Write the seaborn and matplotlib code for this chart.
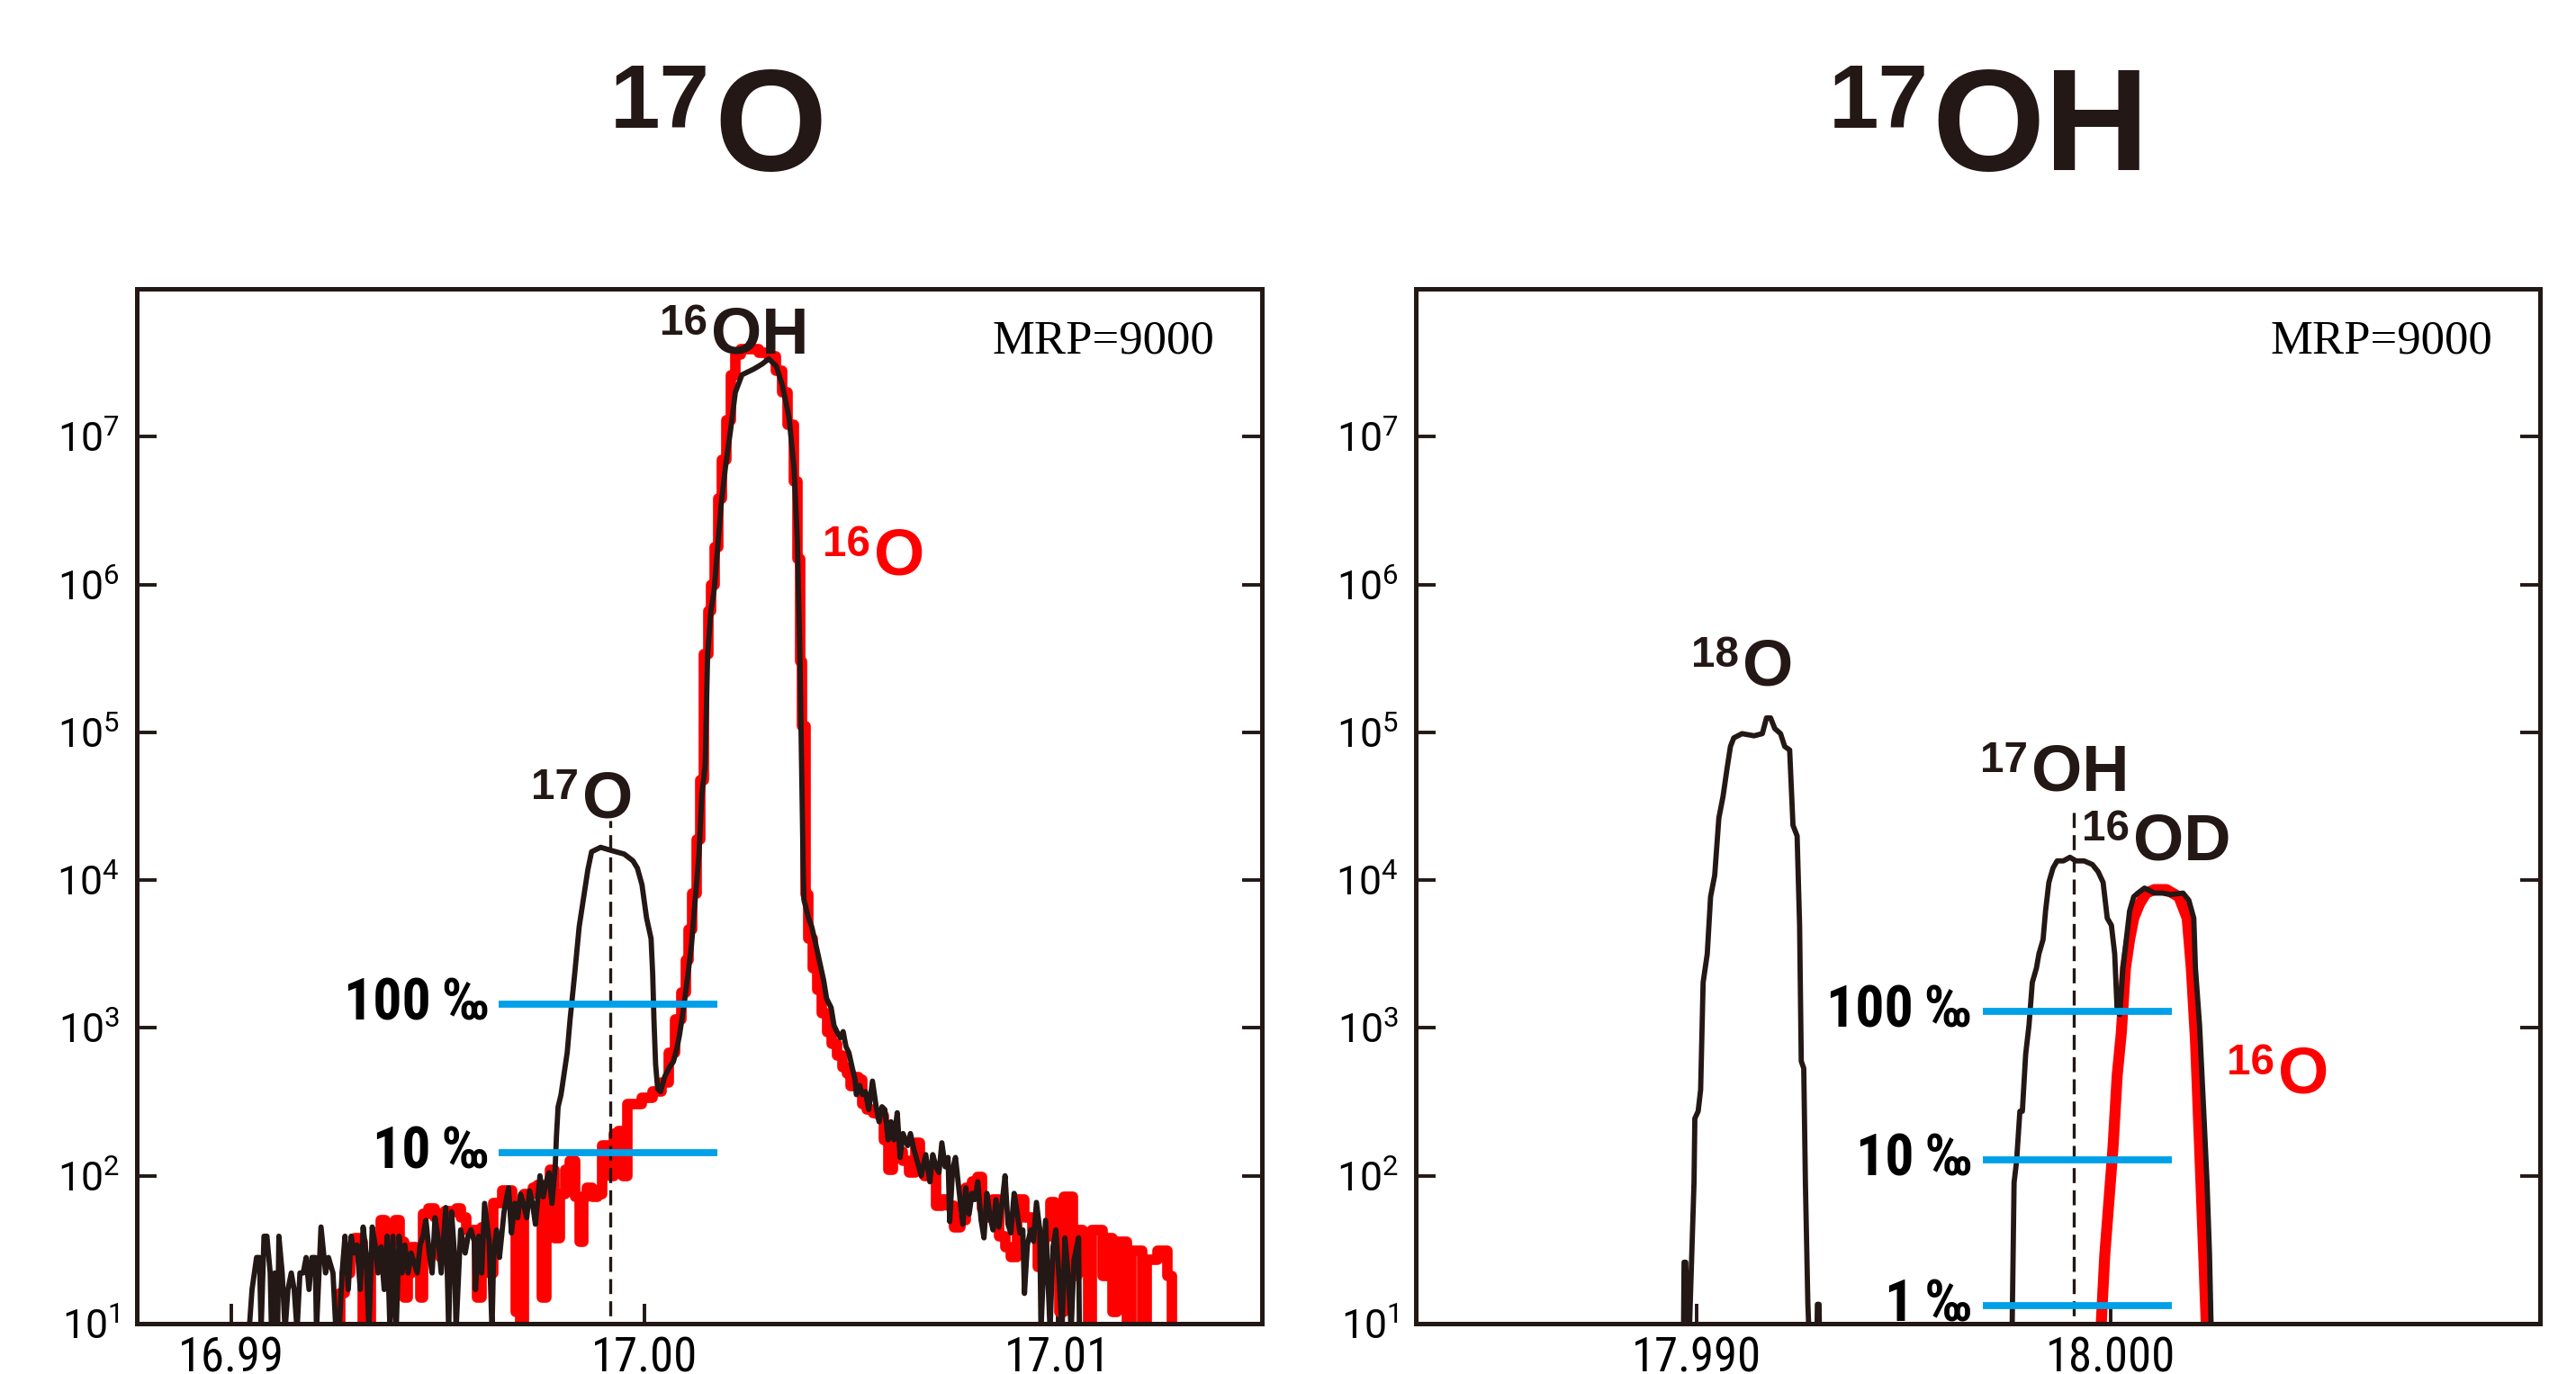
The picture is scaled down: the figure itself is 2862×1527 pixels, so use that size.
import matplotlib
matplotlib.use("Agg")
import matplotlib.pyplot as plt
from matplotlib import font_manager, ticker
import seaborn as sns

# ---------------- data ----------------
# left panel (mass 17): black = sample with 16OH, red = 16O only
o17_black_mz = [
    16.99043, 16.99050, 16.99061, 16.99068, 16.99072, 16.99079, 16.99086, 16.99094, 16.99097, 16.99105,
    16.99112, 16.99115, 16.99123, 16.99130, 16.99137, 16.99145, 16.99152, 16.99159, 16.99166, 16.99174,
    16.99181, 16.99188, 16.99195, 16.99203, 16.99206, 16.99217, 16.99228, 16.99235, 16.99246, 16.99253,
    16.99261, 16.99268, 16.99275, 16.99283, 16.99290, 16.99297, 16.99304, 16.99312, 16.99319, 16.99326,
    16.99333, 16.99341, 16.99348, 16.99355, 16.99362, 16.99370, 16.99377, 16.99384, 16.99391, 16.99399,
    16.99406, 16.99413, 16.99420, 16.99428, 16.99435, 16.99450, 16.99457, 16.99464, 16.99471, 16.99479,
    16.99486, 16.99493, 16.99500, 16.99508, 16.99519, 16.99526, 16.99533, 16.99540, 16.99544, 16.99555,
    16.99566, 16.99573, 16.99580, 16.99588, 16.99591, 16.99599, 16.99606, 16.99613, 16.99624, 16.99631,
    16.99635, 16.99642, 16.99649, 16.99653, 16.99660, 16.99671, 16.99678, 16.99686, 16.99693, 16.99700,
    16.99707, 16.99715, 16.99722, 16.99729, 16.99736, 16.99747, 16.99755, 16.99762, 16.99769, 16.99776,
    16.99784, 16.99787, 16.99791, 16.99798, 16.99813, 16.99820, 16.99831, 16.99842, 16.99853, 16.99863,
    16.99872, 16.99894, 16.99918, 16.99951, 16.99972, 16.99983, 16.99994, 17.00005, 17.00016, 17.00020,
    17.00023, 17.00027, 17.00032, 17.00039, 17.00049, 17.00060, 17.00070, 17.00078, 17.00085, 17.00096,
    17.00107, 17.00114, 17.00121, 17.00132, 17.00139, 17.00147, 17.00153, 17.00161, 17.00169, 17.00176,
    17.00186, 17.00196, 17.00208, 17.00220, 17.00236, 17.00265, 17.00285, 17.00301, 17.00319, 17.00334,
    17.00350, 17.00362, 17.00370, 17.00376, 17.00380, 17.00384, 17.00386, 17.00397, 17.00405, 17.00415,
    17.00426, 17.00434, 17.00441, 17.00452, 17.00459, 17.00466, 17.00474, 17.00481, 17.00488, 17.00495,
    17.00503, 17.00510, 17.00513, 17.00521, 17.00528, 17.00535, 17.00543, 17.00552, 17.00561, 17.00568,
    17.00575, 17.00582, 17.00590, 17.00597, 17.00604, 17.00612, 17.00619, 17.00626, 17.00637, 17.00644,
    17.00652, 17.00662, 17.00670, 17.00681, 17.00691, 17.00698, 17.00706, 17.00713, 17.00720, 17.00728,
    17.00735, 17.00739, 17.00746, 17.00753, 17.00764, 17.00771, 17.00778, 17.00786, 17.00793, 17.00800,
    17.00807, 17.00815, 17.00822, 17.00829, 17.00837, 17.00844, 17.00851, 17.00858, 17.00866, 17.00873,
    17.00880, 17.00887, 17.00895, 17.00902, 17.00909, 17.00916, 17.00920, 17.00927, 17.00935, 17.00942,
    17.00949, 17.00957, 17.00960, 17.00971, 17.00982, 17.00989, 17.00996, 17.01004, 17.01011, 17.01018,
    17.01026, 17.01033, 17.01040, 17.01051, 17.01053,
]
o17_black_cts = [
    9, 17, 28, 28, 9, 39, 39, 22, 9, 22,
    9, 39, 22, 9, 17, 22, 17, 9, 22, 22,
    28, 17, 28, 28, 9, 45, 22, 28, 22, 9,
    9, 22, 39, 17, 39, 30, 34, 17, 45, 30,
    9, 45, 34, 22, 33, 17, 39, 9, 39, 9,
    39, 22, 34, 22, 30, 22, 34, 39, 50, 30,
    22, 52, 39, 22, 61, 9, 57, 30, 9, 43,
    30, 39, 43, 36, 17, 39, 22, 65, 36, 9,
    30, 43, 28, 36, 57, 83, 41, 65, 52, 75,
    65, 52, 79, 65, 47, 100, 72, 91, 105, 65,
    115, 186, 293, 353, 681, 1143, 2301, 4840, 7710, 11750,
    15550, 16670, 15920, 15000, 13520, 12030, 9310, 5570, 4020, 2301,
    1143, 567, 388, 371, 468, 538, 591, 713, 899, 1436,
    2513, 3656, 6400, 14860, 37940, 60300, 3.4e5, 6.65e5, 9.3e5, 1.62e6,
    3.54e6, 6.18e6, 1.08e7, 1.99e7, 2.62e7, 2.87e7, 3.1e7, 3.36e7, 3.0e7, 2.22e7,
    1.35e7, 6.18e6, 2.03e6, 3.8e5, 7.2e4, 1.35e4, 7370, 5570, 4840, 3660,
    2640, 2090, 1580, 1370, 1036, 944, 859, 944, 746, 680,
    539, 447, 354, 407, 354, 371, 280, 437, 293, 232,
    293, 280, 175, 232, 175, 267, 133, 193, 160, 193,
    152, 121, 100, 139, 91, 139, 115, 105, 167, 115,
    133, 49, 110, 133, 69, 47, 83, 55, 76, 69,
    91, 50, 38, 76, 52, 43, 69, 45, 66, 100,
    47, 41, 76, 57, 41, 43, 16, 34, 43, 36,
    66, 43, 9, 50, 9, 33, 43, 20, 9, 38,
    21, 9, 27, 38, 9,
]

o17_red_mz = [
    16.99257, 16.99268, 16.99282, 16.99293, 16.99304, 16.99315, 16.99322, 16.99333, 16.99344, 16.99355,
    16.99366, 16.99381, 16.99391, 16.99402, 16.99413, 16.99424, 16.99431, 16.99442, 16.99453, 16.99460,
    16.99468, 16.99486, 16.99500, 16.99511, 16.99522, 16.99537, 16.99551, 16.99562, 16.99573, 16.99587,
    16.99602, 16.99609, 16.99620, 16.99631, 16.99638, 16.99649, 16.99664, 16.99675, 16.99686, 16.99693,
    16.99704, 16.99711, 16.99725, 16.99736, 16.99747, 16.99758, 16.99765, 16.99776, 16.99787, 16.99802,
    16.99813, 16.99827, 16.99838, 16.99849, 16.99856, 16.99867, 16.99882, 16.99893, 16.99903, 16.99914,
    16.99922, 16.99932, 16.99943, 16.99954, 16.99965, 16.99980, 17.00009, 17.00031, 17.00052, 17.00067,
    17.00081, 17.00096, 17.00103, 17.00112, 17.00121, 17.00132, 17.00139, 17.00150, 17.00158, 17.00166,
    17.00173, 17.00183, 17.00193, 17.00205, 17.00215, 17.00225, 17.00240, 17.00265, 17.00290, 17.00310,
    17.00325, 17.00340, 17.00355, 17.00367, 17.00375, 17.00380, 17.00384, 17.00388, 17.00390, 17.00401,
    17.00412, 17.00423, 17.00437, 17.00448, 17.00459, 17.00474, 17.00484, 17.00495, 17.00503, 17.00513,
    17.00524, 17.00532, 17.00546, 17.00561, 17.00575, 17.00586, 17.00597, 17.00608, 17.00619, 17.00633,
    17.00648, 17.00662, 17.00673, 17.00684, 17.00699, 17.00713, 17.00728, 17.00742, 17.00757, 17.00771,
    17.00786, 17.00800, 17.00811, 17.00822, 17.00837, 17.00851, 17.00866, 17.00880, 17.00895, 17.00909,
    17.00931, 17.00946, 17.00960, 17.00975, 17.00989, 17.01000, 17.01011, 17.01018, 17.01029, 17.01044,
    17.01054, 17.01069, 17.01080, 17.01087, 17.01102, 17.01116, 17.01127, 17.01138, 17.01149, 17.01163,
    17.01174, 17.01185, 17.01200, 17.01211, 17.01222, 17.01236, 17.01247, 17.01261, 17.01272, 17.01280,
]
o17_red_cts = [
    9, 16, 22, 33, 38, 36, 9, 9, 28, 34,
    50, 33, 45, 50, 36, 15, 22, 33, 24, 15,
    55, 60, 52, 28, 58, 57, 60, 52, 43, 43,
    15, 45, 43, 22, 65, 65, 79, 79, 63, 12,
    9, 75, 75, 83, 87, 15, 57, 110, 38, 75,
    110, 126, 72, 36, 72, 83, 72, 75, 160, 160,
    100, 193, 202, 100, 307, 307, 337, 371, 427, 681,
    1138, 1733, 2893, 4620, 8090, 18750, 47700, 3.4e5, 6.65e5, 1.0e6,
    1.8e6, 3.8e6, 7.0e6, 1.3e7, 2.6e7, 3.6e7, 3.9e7, 3.9e7, 3.7e7, 3.5e7,
    2.8e7, 2.0e7, 1.2e7, 5.0e6, 1.5e6, 3.0e5, 1.1e5, 1.1e5, 8000, 4020,
    2520, 1820, 1250, 944, 783, 649, 539, 491, 407, 468,
    447, 307, 280, 267, 255, 175, 110, 160, 146, 126,
    105, 167, 121, 100, 110, 63, 69, 63, 45, 50,
    83, 91, 98, 60, 52, 69, 39, 33, 28, 69,
    52, 43, 24, 39, 66, 39, 12, 72, 72, 21,
    43, 22.5, 9, 43, 43, 21, 38, 12, 36, 36,
    9, 31, 31, 9, 27, 27, 31, 31, 21, 9,
]

# right panel (mass 18)
o18_mz = [
    17.98968, 17.98970, 17.98974, 17.98977, 17.98980, 17.98994, 17.98996, 17.99004, 17.99010, 17.99016,
    17.99026, 17.99034, 17.99044, 17.99054, 17.99064, 17.99074, 17.99082, 17.99090, 17.99110, 17.99139,
    17.99159, 17.99169, 17.99179, 17.99189, 17.99203, 17.99213, 17.99225, 17.99233, 17.99243, 17.99249,
    17.99253, 17.99259, 17.99263, 17.99269, 17.99275, 17.99290, 17.99292, 17.99296, 17.99298,
]
o18_cts = [
    5, 26, 26, 12, 5, 90, 244, 273, 382, 2030,
    3170, 7720, 10800, 26300, 36700, 57400, 80200, 91600, 97900, 94700,
    97900, 1.25e5, 1.25e5, 1.06e5, 97900, 80200, 75900, 23500, 19900, 4950,
    596, 533, 90, 13.5, 5, 5, 13.5, 13.5, 5,
]

oh_od_mz = [
    17.99761, 17.99767, 17.99773, 17.99781, 17.99787, 17.99795, 17.99803, 17.99811, 17.99821, 17.99827,
    17.99837, 17.99843, 17.99851, 17.99861, 17.99871, 17.99886, 17.99902, 17.99916, 17.99936, 17.99956,
    17.99970, 17.99982, 17.99992, 18.00002, 18.00010, 18.00016, 18.00022, 18.00030, 18.00038, 18.00046,
    18.00056, 18.00066, 18.00082, 18.00106, 18.00125, 18.00145, 18.00175, 18.00189, 18.00201, 18.00205,
    18.00215, 18.00225, 18.00233, 18.00239, 18.00245,
]
oh_od_cts = [
    5, 90, 125, 273, 273, 665, 1040, 2030, 2540, 3170,
    3960, 6180, 9650, 12060, 13490, 13490, 14270, 13490, 13490, 12750,
    11400, 9650, 5530, 4950, 3170, 1300, 1230, 2540, 3960, 6180,
    7720, 8170, 8830, 8170, 8170, 7980, 8170, 7310, 5530, 2540,
    1040, 273, 90, 29, 5,
]

o16_right_mz = [
    17.99972, 17.99986, 18.00006, 18.00016, 18.00026, 18.00036, 18.00046, 18.00056, 18.00070, 18.00086,
    18.00106, 18.00135, 18.00165, 18.00185, 18.00195, 18.00205, 18.00215, 18.00225, 18.00235,
]
o16_right_cts = [
    5, 29, 156, 476, 930, 2540, 3960, 5530, 6900, 8170,
    8630, 8630, 7720, 5530, 2540, 832, 156, 29, 5,
]

# permil reference levels (counts) and their labels
left_levels = [1440, 144]
left_level_text = ["100\u2009‰", "10\u2009‰"]
right_levels = [1300, 128, 13.2]
right_level_text = ["100\u2009‰", "10\u2009‰", "1\u2009‰"]

left_ticks = [16.99, 17.00, 17.01]
left_ticklabels = ["16.99", "17.00", "17.01"]
right_ticks = [17.990, 18.000]
right_ticklabels = ["17.990", "18.000"]
y_ticks = [1e1, 1e2, 1e3, 1e4, 1e5, 1e6, 1e7]

# ---------------- style ----------------
INK = "#231815"
RED = "#ff0000"
BLUE = "#00a0e9"

sns.set_style("white")
available = {f.name for f in font_manager.fontManager.ttflist}


def first_font(*names):
    for n in names:
        if n in available:
            return n
    return "DejaVu Sans"


NARROW = first_font("Liberation Sans Narrow", "Roboto Condensed", "Liberation Sans")
SANS = first_font("Liberation Sans", "Arial", "DejaVu Sans")
SERIF = first_font("Liberation Serif", "DejaVu Serif")
LIGHT = first_font("Roboto", "Lato", "Liberation Sans")
plt.rcParams["font.family"] = [LIGHT, "DejaVu Sans"]

fig = plt.figure(figsize=(14.31, 7.635), dpi=200)
axL = fig.add_axes([0.0531, 0.0367, 0.4368, 0.7531])
axR = fig.add_axes([0.5496, 0.0367, 0.4364, 0.7531])


def isotope(ax, x, y, mass, symbol, size, color=INK, family=SANS, coords="data", sup=0.66):
    kw = dict(fontsize=size, fontweight="bold", color=color, family=[family, "DejaVu Sans"])
    if coords == "figure":
        main = fig.text(x, y, symbol, ha="left", va="baseline", **kw)
    else:
        main = ax.text(x, y, symbol, ha="left", va="baseline", **kw)
    kw["fontsize"] = size * sup
    ax.annotate(mass, xy=(0, 1), xycoords=main, xytext=(-1.5, 1.0),
                textcoords="offset points", ha="right", va="top",
                annotation_clip=False, **kw)


def style_axes(ax, ticks, labels, xlim):
    ax.set_yscale("log")
    ax.set_ylim(10, 1e8)
    ax.set_xlim(*xlim)
    ax.set_yticks(y_ticks)
    ax.yaxis.set_minor_locator(ticker.NullLocator())
    ax.set_xticks(ticks)
    ax.set_xticklabels(labels)
    ax.xaxis.set_minor_locator(ticker.NullLocator())
    ax.tick_params(axis="y", direction="in", left=True, right=True, length=8,
                   width=1.4, color=INK, labelsize=16, pad=7, labelcolor="black")
    ax.tick_params(axis="x", direction="in", bottom=True, top=False, length=8,
                   width=1.4, color=INK, labelsize=19, pad=5, labelcolor="black")
    for lab in ax.get_xticklabels():
        lab.set_family([NARROW, "DejaVu Sans"])
    for sp in ax.spines.values():
        sp.set_visible(True)
        sp.set_color(INK)
        sp.set_linewidth(1.8)
    ax.set_xlabel("")
    ax.set_ylabel("")
    ax.text(0.958, 0.938, "MRP=9000", transform=ax.transAxes, ha="right",
            va="baseline", family=[SERIF, "DejaVu Serif"], fontsize=19, color="black")


def permil(ax, levels, texts, x0, x1, xtext):
    for lev, txt in zip(levels, texts):
        ax.plot([x0, x1], [lev, lev], color=BLUE, lw=2.8, solid_capstyle="butt", zorder=4)
        ax.text(xtext, lev, txt, ha="right", va="center", fontsize=23, fontweight="bold",
                family=[NARROW, "DejaVu Sans"], color="black")


# ---------------- left panel ----------------
sns.lineplot(x=o17_red_mz, y=o17_red_cts, ax=axL, color=RED, lw=4.2,
             sort=False, estimator=None, drawstyle="steps-mid", zorder=2)
sns.lineplot(x=o17_black_mz, y=o17_black_cts, ax=axL, color=INK, lw=2.1,
             sort=False, estimator=None, zorder=3)
style_axes(axL, left_ticks, left_ticklabels, (16.98771, 17.01495))
axL.plot([16.99917, 16.99917], [8, 2.54e4], color=INK, lw=1.2,
         linestyle=(0, (5.0, 2.4)), zorder=3)
permil(axL, left_levels, left_level_text, 16.99647, 17.00176, 16.99623)
isotope(axL, 17.00161, 3.67e7, "16", "OH", 26)
isotope(axL, 17.00556, 1.16e6, "16", "O", 26, color=RED)
isotope(axL, 16.99850, 2.64e4, "17", "O", 26)

# ---------------- right panel ----------------
sns.lineplot(x=o16_right_mz, y=o16_right_cts, ax=axR, color=RED, lw=4.4,
             sort=False, estimator=None, zorder=2)
sns.lineplot(x=o18_mz, y=o18_cts, ax=axR, color=INK, lw=2.1,
             sort=False, estimator=None, zorder=3)
sns.lineplot(x=oh_od_mz, y=oh_od_cts, ax=axR, color=INK, lw=2.1,
             sort=False, estimator=None, zorder=3)
style_axes(axR, right_ticks, right_ticklabels, (17.98322, 18.01037))
axR.plot([17.99912, 17.99912], [8, 3.1e4], color=INK, lw=1.2,
         linestyle=(0, (5.0, 2.4)), zorder=3)
permil(axR, right_levels, right_level_text, 17.99691, 18.00149, 17.99665)
isotope(axR, 17.99111, 2.07e5, "18", "O", 26)
isotope(axR, 17.99809, 4.02e4, "17", "OH", 26)
isotope(axR, 18.00054, 1.38e4, "16", "OD", 26)
isotope(axR, 18.00404, 362, "16", "O", 26, color=RED)

# ---------------- panel titles ----------------
isotope(axL, 0.2772, 0.8762, "17", "O", 58, coords="figure", sup=0.62)
isotope(axR, 0.7500, 0.8762, "17", "OH", 58, coords="figure", sup=0.62)

fig.savefig("out.png", dpi=200)
plt.close(fig)
